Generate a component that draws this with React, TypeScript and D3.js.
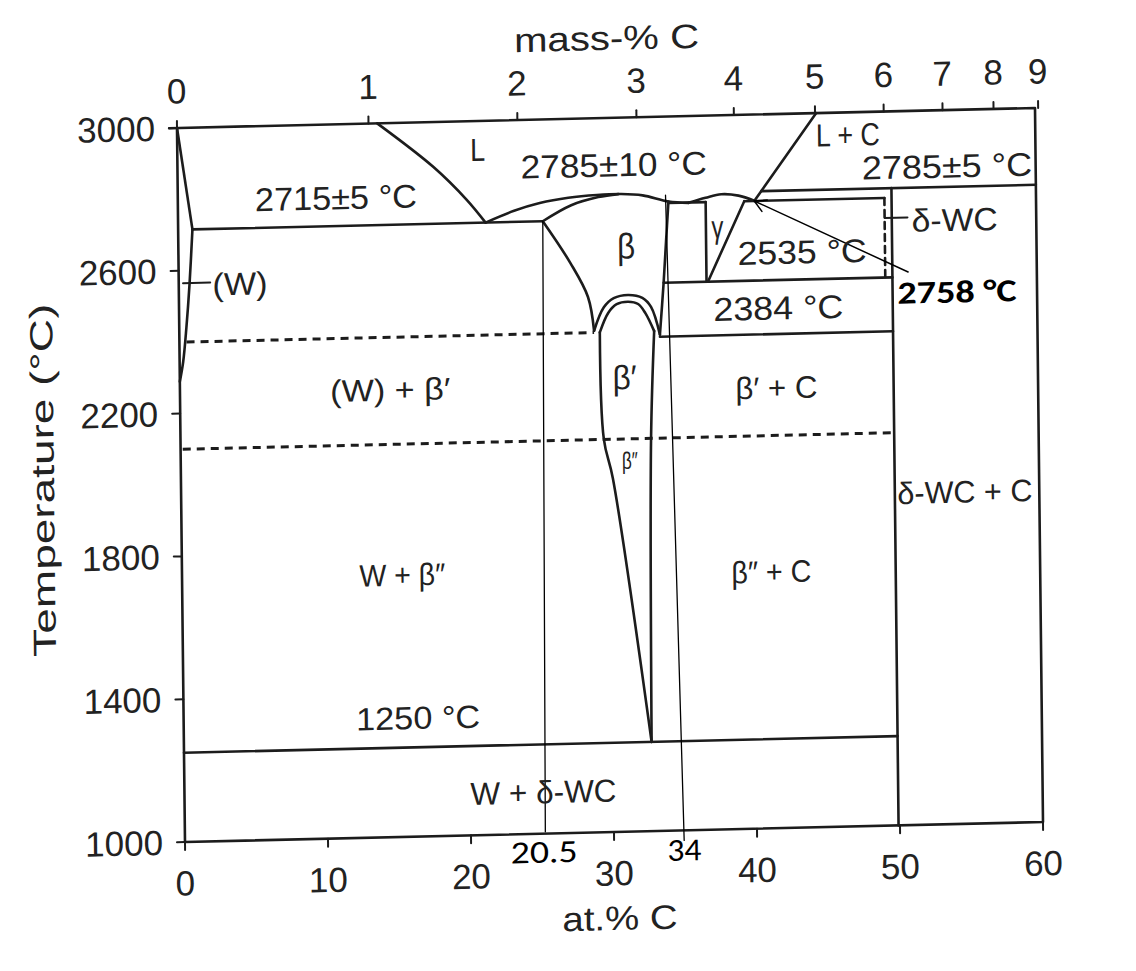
import React from "react";
import * as d3 from "d3";

type Pt = [number, number]; // [at.% C, temperature °C]

// Axis ticks
const atTicks = [0, 10, 20, 30, 40, 50, 60];
const massTicks = [0, 1, 2, 3, 4, 5, 6, 7, 8, 9];
const tempTicks = [3000, 2600, 2200, 1800, 1400, 1000];

// Phase boundaries of the W–C system
const liquidusW: Pt[] = [[14.0, 3000], [17.9, 2874], [20.2, 2780], [21.5, 2715]];
const solidusW: Pt[] = [[0, 3000], [1.0, 2715]];
const solvusW: Pt[] = [[1.0, 2715], [0.75, 2560], [0.5, 2440], [0.25, 2345], [0, 2290]];
const liquidusBeta: Pt[] = [[21.5, 2715], [23.5, 2746], [25.3, 2766], [27.3, 2779], [29.3, 2785], [31.0, 2786], [32.5, 2781], [34.3, 2762], [35.7, 2757]];
const liquidusGamma: Pt[] = [[35.7, 2757], [36.9, 2770], [38.0, 2779], [39.2, 2774], [40.3, 2759]];
const solidusBeta: Pt[] = [[25.5, 2715], [27.5, 2758], [29.4, 2779], [30.8, 2786]];
const liquidusC: Pt[] = [[44.7, 3000], [40.3, 2758]];
const betaLeft: Pt[] = [[25.5, 2715], [27.4, 2596], [28.6, 2500], [29.0, 2405]];
const betaRight: Pt[] = [[34.3, 2762], [34.1, 2650], [33.9, 2535], [33.6, 2390]];
const betaPrimeOuter: Pt[] = [[29.0, 2405], [29.7, 2470], [30.4, 2495], [31.4, 2503], [32.4, 2494], [33.0, 2468], [33.6, 2390]];
const betaPrimeInner: Pt[] = [[29.4, 2400], [30.0, 2454], [30.6, 2478], [31.4, 2484], [32.1, 2477], [32.6, 2451], [33.2, 2400]];
const betaPrimeLeft: Pt[] = [[29.4, 2400], [29.6, 2100], [30.2, 1990], [32.7, 1250]];
const betaPrimeRight: Pt[] = [[33.2, 2400], [32.9, 2100], [32.7, 1250]];
const gammaLeft: Pt[] = [[36.9, 2758], [36.9, 2535]];
const gammaRight: Pt[] = [[39.6, 2758], [37.0, 2535]];
const wcLine: Pt[] = [[49.9, 2785], [49.9, 1000]];
const wcRange: Pt[] = [[49.4, 2758], [49.4, 2535]];

// Invariant reactions: temperature and composition span
const isothermT = [2715, 2758, 2758, 2785, 2535, 2384, 1250];
const isothermFrom = [1.0, 34.3, 39.6, 40.8, 33.9, 33.6, 0];
const isothermTo = [25.5, 36.9, 49.4, 60, 49.9, 49.9, 49.9];
// Transformations drawn dashed
const dashedT = [2400, 2100];
const dashedFrom = [0.5, 0.15];
const dashedTo = [29.0, 49.9];

// Marked compositions
const markerLabels = ["20.5", "34"];
const markerTop: Pt[] = [[25.5, 2715], [34.1, 2780]];
const markerBottom: Pt[] = [[25.2, 1005], [34.9, 972]];
const markerText: Pt[] = [[25.1, 948], [34.9, 945]];
const markerWidth = [67, 34];

// Annotated point
const calloutText = "2758 °C";
const calloutTip: Pt = [40.3, 2758];
const calloutTail: Pt = [51.0, 2549];
const calloutPos: Pt = [54.4, 2490];

// Region and temperature labels
const labelText = [
  "L", "2715±5 °C", "2785±10 °C", "L + C", "2785±5 °C", "δ-WC", "2535 °C", "2384 °C",
  "β", "γ", "(W)", "(W) + β′", "β′", "β′ + C", "β″", "δ-WC + C", "W + β″", "β″ + C",
  "1250 °C", "W + δ-WC",
];
const labelAt = [21.0, 11.06, 30.5, 46.9, 53.8, 54.3, 43.6, 41.9, 31.3, 37.7, 4.28, 14.7, 31.1, 41.7, 31.4, 54.8, 15.4, 41.2, 16.4, 25.1];
const labelT = [2919, 2794, 2868, 2937, 2843, 2692, 2612, 2457, 2640, 2687, 2559, 2252, 2273, 2233, 2040, 1929, 1733, 1718, 1332, 1116];
const labelWidth = [15, 162, 186, 64, 170, 86, 129, 130, 18, 12, 55, 120, 24, 82, 16, 135, 86, 80, 124, 146];
const labelSize = [32, 33, 33, 32, 33, 32, 33, 33, 36, 32, 32, 31, 34, 31, 24, 31, 31, 31, 32, 32];

const massToAt = (w: number) => {
  const c = w / 12.011;
  const wm = (100 - w) / 183.84;
  return (100 * c) / (c + wm);
};

export default function App() {
  const width = 1136;
  const height = 971;
  const x = d3.scaleLinear().domain([0, 60]).range([0, 858]);
  const y = d3.scaleLinear().domain([3000, 1000]).range([0, 714]);
  const straight = d3.line<Pt>().x((d) => x(d[0])).y((d) => y(d[1]));
  const smooth = d3
    .line<Pt>()
    .x((d) => x(d[0]))
    .y((d) => y(d[1]))
    .curve(d3.curveCatmullRom.alpha(0.5));

  const ink = "#1c1c1c";
  const sw = 2.6;
  const font = "'Liberation Sans', Arial, sans-serif";

  const curves: Pt[][] = [liquidusW, solvusW, liquidusBeta, liquidusGamma, solidusBeta, betaLeft, betaRight, betaPrimeOuter, betaPrimeInner, betaPrimeLeft, betaPrimeRight];
  const straights: Pt[][] = [solidusW, liquidusC, gammaLeft, gammaRight, wcLine];

  // arrow head at the callout tip
  const tx = x(calloutTip[0]);
  const ty = y(calloutTip[1]);
  const ang = Math.atan2(y(calloutTail[1]) - ty, x(calloutTail[0]) - tx);
  const head = [ang + 0.5, ang - 0.5].map((a) => [tx + 13 * Math.cos(a), ty + 13 * Math.sin(a)]);

  return (
    <div style={{ position: "absolute", left: 0, top: 0 }}>
      <svg width={width} height={height} viewBox={`0 0 ${width} ${height}`} style={{ display: "block" }}>
        <rect width={width} height={height} fill="#ffffff" />
        <g transform="matrix(1,-0.0233,0.0112,1,177,128)" fill="none" stroke={ink} strokeLinecap="round" strokeLinejoin="round">
          {/* frame */}
          <path d={`M${x(-0.55)},${y(3000)}H${x(60)}V${y(1000)}H${x(0)}V${y(3000)}`} strokeWidth={sw} />
          {tempTicks.map((t) => (
            <line key={`yt${t}`} x1={x(0)} x2={x(0) - 8} y1={y(t)} y2={y(t)} strokeWidth={2} />
          ))}
          {atTicks.map((a) => (
            <line key={`xt${a}`} x1={x(a)} x2={x(a)} y1={y(1000)} y2={y(1000) + 8} strokeWidth={2} />
          ))}
          {massTicks.map((m) => (
            <line key={`mt${m}`} x1={x(massToAt(m))} x2={x(massToAt(m))} y1={y(3000)} y2={y(3000) - 7} strokeWidth={2} />
          ))}

          {/* phase boundaries */}
          {curves.map((c, i) => (
            <path key={`c${i}`} d={smooth(c) ?? ""} strokeWidth={sw} />
          ))}
          {straights.map((c, i) => (
            <path key={`s${i}`} d={straight(c) ?? ""} strokeWidth={sw} />
          ))}
          <path d={straight(wcRange) ?? ""} strokeWidth={2.6} strokeDasharray="7 5" />
          {isothermT.map((t, i) => (
            <line key={`iso${i}`} x1={x(isothermFrom[i])} x2={x(isothermTo[i])} y1={y(t)} y2={y(t)} strokeWidth={sw} />
          ))}
          {dashedT.map((t, i) => (
            <line key={`dash${i}`} x1={x(dashedFrom[i])} x2={x(dashedTo[i])} y1={y(t)} y2={y(t)} strokeWidth={3} strokeDasharray="8 6" strokeLinecap="butt" />
          ))}

          {/* leader lines for (W) and δ-WC */}
          <line x1={x(0.3)} x2={x(2.2)} y1={y(2565)} y2={y(2565)} strokeWidth={2} />
          <line x1={x(49.4)} x2={x(51.0)} y1={y(2702)} y2={y(2702)} strokeWidth={2} />

          {/* marked compositions */}
          {markerLabels.map((m, i) => (
            <line key={`mk${m}`} x1={x(markerTop[i][0])} y1={y(markerTop[i][1])} x2={x(markerBottom[i][0])} y2={y(markerBottom[i][1])} stroke="#000" strokeWidth={1.3} />
          ))}

          {/* callout arrow */}
          <line x1={tx} y1={ty} x2={x(calloutTail[0])} y2={y(calloutTail[1])} stroke="#000" strokeWidth={1.5} />
          <path d={`M${head[0][0]},${head[0][1]}L${tx},${ty}L${head[1][0]},${head[1][1]}`} stroke="#000" strokeWidth={1.5} />

          {/* text */}
          <g stroke="none" fill="#222" fontFamily={font}>
            {labelText.map((s, i) => (
              <text
                key={`lb${i}`}
                x={x(labelAt[i])}
                y={y(labelT[i])}
                fontSize={labelSize[i]}
                textAnchor="middle"
                dominantBaseline="central"
                textLength={labelWidth[i]}
                lengthAdjust="spacingAndGlyphs"
              >
                {s}
              </text>
            ))}
            {tempTicks.map((t) => (
              <text key={`ytl${t}`} x={x(0) - 22} y={y(t)} fontSize={35} textAnchor="end" dominantBaseline="central">
                {t}
              </text>
            ))}
            {atTicks.map((a) => (
              <text key={`xtl${a}`} x={x(a)} y={y(1000) + 41} fontSize={35} textAnchor="middle" dominantBaseline="central">
                {a}
              </text>
            ))}
            {massTicks.map((m) => (
              <text key={`mtl${m}`} x={x(massToAt(m))} y={y(3000) - 37} fontSize={35} textAnchor="middle" dominantBaseline="central">
                {m}
              </text>
            ))}
            <text x={x(30.1)} y={-80} fontSize={34} textAnchor="middle" dominantBaseline="central" textLength={185} lengthAdjust="spacingAndGlyphs">
              mass-% C
            </text>
            <text x={x(30.35)} y={800} fontSize={34} textAnchor="middle" dominantBaseline="central" textLength={115} lengthAdjust="spacingAndGlyphs">
              at.% C
            </text>
            <text
              transform={`translate(${-138},${349}) rotate(-90)`}
              fontSize={32}
              textAnchor="middle"
              dominantBaseline="central"
              textLength={353}
              lengthAdjust="spacingAndGlyphs"
            >
              Temperature (°C)
            </text>
          </g>
          <g stroke="none" fill="#000" fontFamily="Carlito, 'Open Sans', 'Liberation Sans', sans-serif">
            <text x={x(calloutPos[0])} y={y(calloutPos[1])} fontSize={32} fontWeight="bold" textAnchor="middle" dominantBaseline="central" textLength={119} lengthAdjust="spacingAndGlyphs">
              {calloutText}
            </text>
            {markerLabels.map((m, i) => (
              <text key={`mkl${m}`} x={x(markerText[i][0])} y={y(markerText[i][1])} fontSize={32} textAnchor="middle" dominantBaseline="central" textLength={markerWidth[i]} lengthAdjust="spacingAndGlyphs">
                {m}
              </text>
            ))}
          </g>
        </g>
      </svg>
    </div>
  );
}
